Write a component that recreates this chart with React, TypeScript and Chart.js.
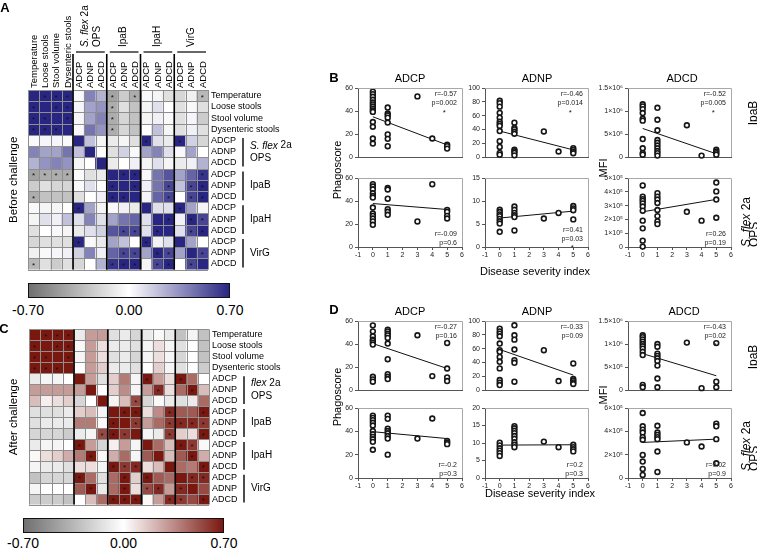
import React, { useEffect, useRef } from 'react';
import { Chart, registerables } from 'chart.js';

Chart.register(...registerables);

const FONT = "'Liberation Sans', Arial, Helvetica, sans-serif";

// ---------------- heatmap data ----------------
const symptomLabels = ['Temperature', 'Loose stools', 'Stool volume', 'Dysenteric stools'];
const assayLabels = ['ADCP', 'ADNP', 'ADCD'];
const heatLabels = [...symptomLabels, ...assayLabels, ...assayLabels, ...assayLabels, ...assayLabels];
const antigenNames = ['OPS', 'IpaB', 'IpaH', 'VirG'];
const colorbarValues = [-0.7, 0, 0.7];
const colorbarLabels = ['-0.70', '0.00', '0.70'];

const beforeValues = [
  [0.7, 0.7, 0.7, 0.7, 0.02, 0.4, 0.25, -0.45, -0.25, -0.4, 0.02, -0.05, -0.15, -0.2, -0.07, -0.35],
  [0.7, 0.7, 0.7, 0.7, 0.03, 0.3, 0.35, -0.4, -0.15, -0.3, -0.05, 0.1, 0.0, -0.15, 0.02, -0.15],
  [0.7, 0.7, 0.7, 0.7, 0.03, 0.3, 0.4, -0.4, -0.2, -0.3, -0.05, 0.05, 0.02, -0.15, 0.03, -0.25],
  [0.7, 0.7, 0.7, 0.7, 0.02, 0.45, 0.35, -0.4, -0.2, -0.3, 0.0, 0.2, -0.05, -0.15, 0.05, -0.15],
  [0.02, 0.03, 0.03, 0.02, 0.7, 0.2, -0.05, -0.1, -0.05, -0.15, 0.7, 0.1, -0.1, 0.7, 0.15, -0.2],
  [0.4, 0.3, 0.3, 0.45, 0.2, 0.7, 0.0, -0.15, 0.15, 0.02, 0.3, 0.4, 0.1, 0.02, 0.3, 0.0],
  [0.25, 0.35, 0.4, 0.35, -0.05, 0.0, 0.7, -0.1, 0.0, 0.05, -0.05, 0.1, -0.05, -0.1, 0.05, 0.25],
  [-0.45, -0.4, -0.4, -0.4, -0.02, -0.15, -0.1, 0.7, 0.7, 0.7, 0.02, 0.45, 0.55, 0.3, 0.5, 0.65],
  [-0.25, -0.15, -0.2, -0.2, 0.02, 0.1, 0.0, 0.7, 0.7, 0.7, 0.05, 0.45, 0.6, 0.2, 0.6, 0.7],
  [-0.4, -0.3, -0.3, -0.3, -0.15, 0.0, 0.05, 0.7, 0.7, 0.7, -0.05, 0.5, 0.6, 0.0, 0.6, 0.7],
  [0.02, -0.05, -0.05, 0.0, 0.7, 0.3, -0.05, 0.02, 0.05, -0.1, 0.7, 0.1, 0.1, 0.7, 0.3, -0.05],
  [-0.05, 0.1, 0.05, 0.2, 0.1, 0.4, 0.1, 0.3, 0.45, 0.5, 0.1, 0.7, 0.7, 0.05, 0.7, 0.6],
  [-0.15, 0.0, 0.02, -0.05, -0.1, 0.1, 0.15, 0.55, 0.6, 0.6, 0.1, 0.7, 0.7, 0.1, 0.6, 0.7],
  [-0.2, -0.15, -0.15, -0.15, 0.7, 0.02, -0.1, 0.3, 0.2, 0.0, 0.7, 0.05, 0.1, 0.7, 0.3, 0.0],
  [-0.07, 0.02, 0.03, 0.05, 0.15, 0.4, 0.05, 0.5, 0.6, 0.6, 0.3, 0.7, 0.6, 0.3, 0.7, 0.6],
  [-0.35, -0.15, -0.25, -0.15, -0.2, 0.0, 0.25, 0.65, 0.7, 0.7, -0.05, 0.6, 0.7, 0.0, 0.6, 0.7],
];
const beforeStars = [
  '.***...*.*.....*',
  '*.**...*........',
  '**.*...*........',
  '***....*........',
  '..........*..*..',
  '................',
  '................',
  '****....**.....*',
  '.......*.*..*.**',
  '*......**...*.**',
  '....*........*..',
  '............*.**',
  '........**.*..**',
  '....*.....*.....',
  '........**.**..*',
  '*......***.**.*.',
];

const afterValues = [
  [0.7, 0.7, 0.7, 0.7, -0.1, 0.3, 0.3, -0.15, -0.1, -0.2, -0.1, 0.02, -0.1, -0.3, -0.05, -0.3],
  [0.7, 0.7, 0.7, 0.7, -0.03, 0.3, 0.1, -0.1, -0.1, -0.15, -0.05, 0.1, -0.05, -0.15, 0.0, -0.3],
  [0.7, 0.7, 0.7, 0.7, -0.05, 0.3, 0.1, -0.15, -0.1, -0.2, -0.05, 0.1, -0.05, -0.2, 0.0, -0.3],
  [0.7, 0.7, 0.7, 0.7, 0.0, 0.3, 0.15, -0.1, -0.1, -0.15, 0.0, 0.15, -0.05, -0.15, 0.0, -0.25],
  [-0.1, -0.05, -0.05, 0.0, 0.7, 0.3, -0.15, 0.15, 0.4, -0.05, 0.7, 0.3, 0.1, 0.7, 0.45, 0.0],
  [0.3, 0.3, 0.3, 0.3, 0.3, 0.7, 0.0, 0.15, 0.35, -0.05, 0.3, 0.65, 0.1, 0.45, 0.7, 0.2],
  [0.2, 0.05, 0.1, 0.15, -0.2, 0.0, 0.7, -0.05, 0.2, 0.55, -0.2, 0.02, -0.1, -0.15, -0.1, 0.45],
  [-0.15, -0.15, -0.15, -0.1, 0.15, 0.2, -0.05, 0.7, 0.7, 0.7, 0.1, 0.35, 0.65, 0.5, 0.5, 0.7],
  [-0.15, -0.1, -0.1, -0.1, 0.4, 0.4, 0.02, 0.7, 0.7, 0.6, 0.3, 0.45, 0.6, 0.65, 0.65, 0.6],
  [-0.2, -0.2, -0.2, -0.25, -0.1, -0.05, 0.55, 0.7, 0.6, 0.7, -0.05, -0.1, 0.6, 0.15, 0.1, 0.7],
  [-0.1, -0.05, -0.05, 0.0, 0.7, 0.3, -0.2, 0.05, 0.3, -0.05, 0.7, 0.45, 0.2, 0.7, 0.6, 0.02],
  [0.02, 0.1, 0.15, 0.25, 0.4, 0.7, 0.02, 0.25, 0.45, -0.05, 0.5, 0.7, 0.2, 0.5, 0.7, 0.25],
  [-0.05, -0.1, -0.1, -0.15, 0.1, 0.1, -0.05, 0.7, 0.6, 0.65, 0.1, 0.2, 0.7, 0.45, 0.4, 0.7],
  [-0.3, -0.2, -0.2, -0.2, 0.7, 0.45, -0.15, 0.45, 0.7, 0.15, 0.7, 0.5, 0.45, 0.7, 0.65, 0.65],
  [-0.05, 0.0, 0.0, 0.0, 0.5, 0.7, -0.1, 0.45, 0.7, 0.1, 0.55, 0.65, 0.3, 0.65, 0.7, 0.55],
  [-0.25, -0.25, -0.25, -0.3, 0.0, 0.2, 0.45, 0.7, 0.7, 0.7, 0.02, 0.3, 0.65, 0.6, 0.55, 0.7],
];
const afterStars = [
  '.***............',
  '*.**............',
  '**.*............',
  '***.............',
  '..........*..*..',
  '...........*..*.',
  '.........*......',
  '........**..*..*',
  '.......*.*..****',
  '......***...*..*',
  '....*........**.',
  '.....*........*.',
  '.......***.....*',
  '....*...*.*...**',
  '.....*..*.**.*..',
  '.......***..**.*',
];

// ---------------- scatter data: [disease severity index, values] ----------------
type Group = [number, number[]][];
type Pt = [number, number];

const B_IPAB_ADCP: Group = [
  [0, [56.8, 54.7, 52.4, 49.8, 47.4, 45.7, 43.9, 42.1, 40.4, 39.2, 30.4, 26.3, 16.1, 11.7]],
  [1, [43, 37.8, 36.3, 34.2, 29.9, 19.6, 15.8, 9.4]],
  [3, [52.7]],
  [4, [16.1]],
  [5, [10.8, 9.4, 7.3]],
];
const B_IPAB_ADCP_FIT: Pt[] = [[0, 35], [5, 10.5]];

const B_IPAB_ADNP: Group = [
  [0, [81.5, 78, 73, 64, 57, 51, 48, 45, 37.6, 23, 14.6, 5.9, 3.4]],
  [1, [49.8, 42, 40, 36.6, 33.7, 10.7, 8.3, 5.9, 2.4]],
  [3, [37]],
  [4, [8]],
  [5, [12.8, 10.3, 7.8, 5.4]],
];
const B_IPAB_ADNP_FIT: Pt[] = [[0, 37.6], [5, 10.3]];

const B_IPAB_ADCD: Group = [
  [0, [1.146e6, 1.1e6, 1.04e6, 0.955e6, 0.83e6, 0.79e6, 0.39e6, 0.19e6, 0.085e6, 0.05e6]],
  [1, [1.07e6, 0.81e6, 0.58e6, 0.37e6, 0.31e6, 0.25e6, 0.19e6, 0.13e6, 0.085e6, 0.03e6]],
  [3, [0.69e6]],
  [4, [0.03e6]],
  [5, [0.156e6, 0.12e6, 0.085e6, 0.05e6]],
];
const B_IPAB_ADCD_FIT: Pt[] = [[0, 0.62e6], [5, 0.07e6]];

const B_OPS_ADCP: Group = [
  [0, [54.6, 52.6, 50.2, 46.7, 44.4, 43, 34.3, 29.1, 27.1, 24.8, 22.2, 19.3]],
  [1, [51.3, 50, 42, 32.9, 30.6, 28]],
  [3, [22.2]],
  [4, [54.6]],
  [5, [32.3, 30.6, 27.1, 24.8]],
];
const B_OPS_ADCP_FIT: Pt[] = [[0, 37.8], [5, 32.6]];

const B_OPS_ADNP: Group = [
  [0, [8.1, 7.6, 7.1, 6.7, 6.1, 5.6, 5.1, 3.3]],
  [1, [8.8, 8.1, 7.4, 6.9, 6.5, 3.6]],
  [3, [6.2]],
  [4, [7.4]],
  [5, [8.9, 8.4, 8.0, 6.0]],
];
const B_OPS_ADNP_FIT: Pt[] = [[0, 6.3], [5, 7.8]];

const B_OPS_ADCD: Group = [
  [0, [4.46e5, 3.65e5, 3.47e5, 3.34e5, 3.16e5, 2.93e5, 2.63e5, 1.91e5, 1.35e5, 0.46e5, 0.03e5]],
  [1, [3.9e5, 3.65e5, 3.44e5, 3.19e5, 2.68e5, 2.24e5, 1.86e5, 1.66e5]],
  [3, [2.55e5]],
  [4, [1.91e5]],
  [5, [4.67e5, 4.03e5, 3.44e5, 2.12e5]],
];
const B_OPS_ADCD_FIT: Pt[] = [[0, 2.55e5], [5, 3.45e5]];

const D_IPAB_ADCP: Group = [
  [0, [56.2, 51, 46.7, 43.8, 42.7, 40.9, 39.5, 11.5, 9.2, 7.2]],
  [1, [52.5, 51, 49, 47.5, 45.3, 40.4, 26.8, 13.8, 11.5, 9.5]],
  [3, [47.6]],
  [4, [12.1]],
  [5, [40.9, 18.7, 10.9, 7.8]],
];
const D_IPAB_ADCP_FIT: Pt[] = [[0, 40.4], [5, 18.7]];

const D_IPAB_ADNP: Group = [
  [0, [89, 85, 81.7, 77.9, 67.3, 57.7, 55.3, 48, 40.9, 31.3, 14.4, 10.6, 7.2]],
  [1, [93.8, 79.3, 73, 58.7, 43.3, 39.4, 12]],
  [3, [57.7]],
  [4, [13]],
  [5, [38.5, 15.9, 13.5, 11, 8.7]],
];
const D_IPAB_ADNP_FIT: Pt[] = [[0, 58.7], [5, 21.6]];

const D_IPAB_ADCD: Group = [
  [0, [1.19e6, 1.15e6, 1.1e6, 1.05e6, 1.0e6, 0.95e6, 0.9e6, 0.83e6, 0.76e6, 0.11e6, 0.06e6]],
  [1, [1.0e6, 0.94e6, 0.79e6, 0.74e6, 0.69e6, 0.63e6, 0.53e6, 0.25e6, 0.06e6]],
  [3, [1.03e6]],
  [4, [0.04e6]],
  [5, [1.02e6, 0.18e6, 0.06e6]],
];
const D_IPAB_ADCD_FIT: Pt[] = [[0, 0.79e6], [5, 0.31e6]];

const D_OPS_ADCP: Group = [
  [0, [53.5, 51.5, 49.6, 47.3, 45, 40.3, 37.5, 35.2, 33.2, 31, 24.2]],
  [1, [53.5, 50.7, 42.3, 40.3, 38.3, 36, 33.8, 20]],
  [3, [33.8]],
  [4, [51]],
  [5, [31.8, 30.4, 29]],
];
const D_OPS_ADCP_FIT: Pt[] = [[0, 39.7], [5, 33.8]];

const D_OPS_ADNP: Group = [
  [0, [10.1, 9.3, 8.5, 7.8, 7.1, 6.3]],
  [1, [14.8, 14.2, 13.5, 12.8, 12, 11.2, 10.2, 9.5, 8.8]],
  [3, [10.4]],
  [4, [8.8]],
  [5, [9.5, 8.8, 8.2, 7.6]],
];
const D_OPS_ADNP_FIT: Pt[] = [[0, 9.4], [5, 9.5]];

const D_OPS_ADCD: Group = [
  [0, [5.57e5, 4.43e5, 4.14e5, 3.9e5, 3.5e5, 3.28e5, 1.98e5, 1.41e5, 0.78e5, 0.26e5]],
  [1, [4.48e5, 3.9e5, 3.7e5, 3.5e5, 3.33e5, 2.27e5, 0.52e5]],
  [3, [3.05e5]],
  [4, [2.7e5]],
  [5, [4.66e5, 4.43e5, 3.33e5, 1.26e5]],
];
const D_OPS_ADCD_FIT: Pt[] = [[0, 3.05e5], [5, 3.33e5]];

const severityTicks = [-1, 6];

// ---------------- helpers ----------------
const GRAY_END = [112, 112, 112];
const BLUE_END = [40, 38, 130];
const RED_END = [122, 24, 16];

function heatColor(v: number, pos: number[]) {
  const t = Math.min(1, Math.abs(v) / 0.7);
  const end = v >= 0 ? pos : GRAY_END;
  const c = end.map((e) => Math.round(255 + (e - 255) * t));
  return `rgb(${c[0]},${c[1]},${c[2]})`;
}

const SUP: Record<string, string> = { '0': '⁰', '1': '¹', '2': '²', '3': '³', '4': '⁴', '5': '⁵', '6': '⁶', '7': '⁷', '8': '⁸', '9': '⁹' };
function sciLabel(v: number) {
  if (v === 0) return '0';
  const e = Math.floor(Math.log10(v) + 1e-9);
  const m = Math.round((v / Math.pow(10, e)) * 100) / 100;
  return `${m}×10${String(e).split('').map((d) => SUP[d]).join('')}`;
}

const expand = (g: Group) => g.flatMap(([x, ys]) => ys.map((y) => ({ x, y })));

// ---------------- heatmap ----------------
interface HeatProps {
  values: number[][];
  stars: string[];
  pos: number[];
  gridLeft: number;
  gridTop: number;
  header: boolean;
  side: string;
  opsItalic: string;
}

function Heatmap(p: HeatProps) {
  const ref = useRef<HTMLCanvasElement>(null);
  const W = 300;
  const GW = 180;
  const GH = 185;
  const headH = p.header ? 90 : 4;
  const H = headH + GH + 3;
  useEffect(() => {
    const n = heatLabels.length;
    const overlay = {
      id: 'heatOverlay',
      afterDatasetsDraw(chart: any) {
        const { ctx, chartArea: ca } = chart;
        const xs = chart.scales.x;
        const ys = chart.scales.y;
        const cw = (ca.right - ca.left) / n;
        const colEdge = (i: number) => (i < n ? xs.getPixelForValue(i) - cw / 2 : xs.getPixelForValue(n - 1) + cw / 2);
        const rowEdge = (r: number) => ys.getPixelForValue(r);
        const drawText = (parts: [string, boolean][], x: number, y: number, size: number, align: string, rotate: boolean) => {
          ctx.save();
          ctx.translate(x, y);
          if (rotate) ctx.rotate(-Math.PI / 2);
          let total = 0;
          parts.forEach(([t, it]) => {
            ctx.font = `${it ? 'italic ' : ''}${size}px ${FONT}`;
            total += ctx.measureText(t).width;
          });
          let cx = align === 'left' ? 0 : -total / 2;
          ctx.textAlign = 'left';
          ctx.textBaseline = 'middle';
          ctx.fillStyle = '#000';
          parts.forEach(([t, it]) => {
            ctx.font = `${it ? 'italic ' : ''}${size}px ${FONT}`;
            ctx.fillText(t, cx, 0);
            cx += ctx.measureText(t).width;
          });
          ctx.restore();
        };
        ctx.save();
        // cell grid
        ctx.strokeStyle = '#8e8e8e';
        ctx.lineWidth = 1;
        ctx.beginPath();
        for (let i = 0; i <= n; i++) {
          const x = Math.round(colEdge(i)) + 0.5;
          ctx.moveTo(x, ca.top);
          ctx.lineTo(x, ca.bottom);
        }
        for (let r = 0; r <= n; r++) {
          const y = Math.round(rowEdge(r)) + 0.5;
          ctx.moveTo(ca.left, y);
          ctx.lineTo(ca.right, y);
        }
        ctx.stroke();
        // significance stars
        ctx.fillStyle = '#111';
        ctx.font = `8px ${FONT}`;
        ctx.textAlign = 'center';
        ctx.textBaseline = 'middle';
        p.stars.forEach((row, r) =>
          row.split('').forEach((c, i) => {
            if (c === '*') ctx.fillText('*', xs.getPixelForValue(i), (rowEdge(r) + rowEdge(r + 1)) / 2 + 2);
          })
        );
        // group separators
        ctx.strokeStyle = '#000';
        ctx.lineWidth = 1.6;
        [4, 7, 10, 13].forEach((i) => {
          const x = colEdge(i);
          ctx.beginPath();
          ctx.moveTo(x, p.header ? ca.top - 36 : ca.top);
          ctx.lineTo(x, ca.bottom);
          ctx.stroke();
        });
        // column labels and group headers
        if (p.header) {
          heatLabels.forEach((lab, i) => {
            drawText([[lab, false]], xs.getPixelForValue(i) + 0.5, ca.top - 2, 9.5, 'left', true);
          });
          ctx.lineWidth = 1.2;
          antigenNames.forEach((name, g) => {
            const a = colEdge(4 + 3 * g);
            const b = colEdge(7 + 3 * g);
            ctx.beginPath();
            ctx.moveTo(a + 3, ca.top - 38);
            ctx.lineTo(b - 2, ca.top - 38);
            ctx.stroke();
            const cx = (a + b) / 2;
            if (g === 0) {
              drawText([['S. flex', true], [' 2a', false]], cx - 5, ca.top - 43, 10, 'left', true);
              drawText([['OPS', false]], cx + 7, ca.top - 43, 10, 'left', true);
            } else {
              drawText([[name, false]], cx, ca.top - 43, 10, 'left', true);
            }
          });
        }
        // row group brackets
        ctx.lineWidth = 1.4;
        antigenNames.forEach((name, g) => {
          const t = rowEdge(4 + 3 * g);
          const b = rowEdge(7 + 3 * g);
          const bx = ca.right + 35;
          ctx.beginPath();
          ctx.moveTo(bx, t + 3);
          ctx.lineTo(bx, b - 2);
          ctx.stroke();
          const cy = (t + b) / 2;
          if (g === 0) {
            const parts: [string, boolean][] = p.opsItalic === 'S. flex' ? [['S. flex', true], [' 2a', false]] : [['flex', true], [' 2a', false]];
            drawText(parts, ca.right + 42, cy - 6, 10, 'left', false);
            drawText([['OPS', false]], ca.right + 42, cy + 7, 10, 'left', false);
          } else {
            drawText([[name, false]], ca.right + 42, cy, 10, 'left', false);
          }
        });
        // side label
        drawText([[p.side, false]], 14, (ca.top + ca.bottom) / 2, 11.5, 'center', true);
        ctx.restore();
      },
    };
    const chart = new Chart(ref.current as HTMLCanvasElement, {
      type: 'bar',
      data: {
        labels: heatLabels,
        datasets: p.values.map((row, r) => ({
          label: heatLabels[r],
          data: row.map(() => 1),
          backgroundColor: row.map((v) => heatColor(v, p.pos)),
          borderWidth: 0,
          barPercentage: 1,
          categoryPercentage: 1,
        })),
      },
      options: {
        responsive: false,
        animation: false,
        events: [],
        plugins: { legend: { display: false }, tooltip: { enabled: false } },
        layout: { padding: { left: p.gridLeft, top: headH, right: 0, bottom: 3 } },
        scales: {
          x: {
            type: 'category',
            position: 'top',
            stacked: true,
            display: false,
          },
          y: {
            type: 'linear',
            position: 'right',
            stacked: true,
            reverse: true,
            min: 0,
            max: 16,
            grid: { display: false, drawTicks: false },
            border: { display: false },
            afterBuildTicks: (s: any) => {
              s.ticks = heatLabels.map((_, i) => ({ value: i + 0.5 }));
            },
            ticks: {
              autoSkip: false,
              padding: 3,
              color: '#000',
              font: { family: FONT, size: 9 },
              callback: (_v: any, i: number) => heatLabels[i],
            },
            afterFit: (s: any) => {
              s.width = W - p.gridLeft - GW;
            },
          },
        },
      } as any,
      plugins: [overlay],
    });
    return () => chart.destroy();
  }, []);
  return <canvas ref={ref} width={W} height={H} style={{ position: 'absolute', left: 0, top: p.gridTop - headH }} />;
}

function Colorbar({ left, top, width, pos, labelY }: { left: number; top: number; width: number; pos: number[]; labelY: number }) {
  const stops = [-0.7, -0.35, 0, 0.35, 0.7].map((v) => heatColor(v, pos)).join(', ');
  return (
    <>
      <div
        style={{
          position: 'absolute',
          left,
          top,
          width,
          height: 15,
          boxSizing: 'border-box',
          border: '1.5px solid #111',
          background: `linear-gradient(to right, ${stops})`,
        }}
      />
      {colorbarValues.map((v, i) => (
        <Txt key={i} x={left + ((v + 0.7) / 1.4) * width} y={labelY} size={14}>
          {colorbarLabels[i]}
        </Txt>
      ))}
    </>
  );
}

// ---------------- scatter ----------------
interface ScatterProps {
  x: number;
  y: number;
  w: number;
  h: number;
  groups: Group;
  fit: Pt[];
  yMax: number;
  yStep: number;
  sci?: boolean;
  showX: boolean;
  r: string;
  pv: string;
  star?: boolean;
  noteAt: 'top' | 'bottom';
}

function Scatter(p: ScatterProps) {
  const ref = useRef<HTMLCanvasElement>(null);
  const YW = 45;
  const XH = 14;
  const PT = 8;
  const PR = 10;
  useEffect(() => {
    const deco = {
      id: 'deco',
      afterDraw(chart: any) {
        const { ctx, chartArea: ca } = chart;
        ctx.save();
        ctx.strokeStyle = '#a8a8a8';
        ctx.lineWidth = 1;
        ctx.beginPath();
        ctx.moveTo(ca.left, Math.round(ca.top) + 0.5);
        ctx.lineTo(Math.round(ca.right) + 0.5, Math.round(ca.top) + 0.5);
        ctx.lineTo(Math.round(ca.right) + 0.5, ca.bottom);
        ctx.stroke();
        ctx.fillStyle = '#222';
        ctx.font = `7px ${FONT}`;
        ctx.textAlign = 'right';
        ctx.textBaseline = 'middle';
        const rx = ca.right - 5;
        let y1: number;
        let y2: number;
        let ys = 0;
        if (p.noteAt === 'top') {
          y1 = ca.top + 6.5;
          y2 = ca.top + 15;
          ys = ca.top + 23;
        } else if (p.star) {
          y1 = ca.bottom - 17;
          y2 = ca.bottom - 8;
          ys = ca.bottom - 1;
        } else {
          y1 = ca.bottom - 13;
          y2 = ca.bottom - 4;
        }
        ctx.fillText(p.r, rx, y1);
        ctx.fillText(p.pv, rx, y2);
        if (p.star) {
          const w = ctx.measureText(p.pv).width;
          ctx.textAlign = 'center';
          ctx.font = `8px ${FONT}`;
          ctx.fillText('*', rx - w / 2, ys + 1.5);
        }
        ctx.restore();
      },
    };
    const chart = new Chart(ref.current as HTMLCanvasElement, {
      type: 'scatter',
      data: {
        datasets: [
          {
            type: 'scatter',
            data: expand(p.groups),
            pointRadius: 2.4,
            pointBorderWidth: 1.6,
            pointBorderColor: '#161616',
            pointBackgroundColor: '#ffffff',
            clip: false,
          },
          {
            type: 'line',
            data: p.fit.map(([x, y]) => ({ x, y })),
            borderColor: '#111',
            borderWidth: 1,
            pointRadius: 0,
            fill: false,
            clip: false,
          },
        ],
      },
      options: {
        responsive: false,
        animation: false,
        events: [],
        plugins: { legend: { display: false }, tooltip: { enabled: false } },
        layout: { padding: { left: 0, top: PT, right: PR, bottom: 0 } },
        scales: {
          x: {
            type: 'linear',
            min: severityTicks[0],
            max: severityTicks[1],
            grid: { display: p.showX, drawOnChartArea: false, drawTicks: true, tickLength: 3, color: '#555' },
            border: { display: true, color: '#555', width: 1 },
            ticks: { display: p.showX, stepSize: 1, padding: 1, color: '#222', font: { family: FONT, size: 7 } },
            afterFit: (s: any) => {
              s.height = XH;
            },
          },
          y: {
            type: 'linear',
            min: 0,
            max: p.yMax,
            grid: { display: true, drawOnChartArea: false, drawTicks: true, tickLength: 3, color: '#555' },
            border: { display: true, color: '#555', width: 1 },
            ticks: {
              stepSize: p.yStep,
              padding: 2,
              color: '#222',
              font: { family: FONT, size: 7 },
              callback: (v: any) => (p.sci ? sciLabel(Number(v)) : String(v)),
            },
            afterFit: (s: any) => {
              s.width = YW;
            },
          },
        },
      } as any,
      plugins: [deco],
    });
    return () => chart.destroy();
  }, []);
  return (
    <canvas
      ref={ref}
      width={p.w + YW + PR}
      height={p.h + PT + XH}
      style={{ position: 'absolute', left: p.x - YW, top: p.y - PT }}
    />
  );
}

// ---------------- text ----------------
function Txt(props: { x: number; y: number; size: number; bold?: boolean; rotate?: boolean; start?: boolean; children: any }) {
  const { x, y, size, bold, rotate, start, children } = props;
  const base: any = {
    position: 'absolute',
    left: x,
    top: y,
    whiteSpace: 'nowrap',
    fontFamily: FONT,
    fontSize: size,
    lineHeight: 1,
    fontWeight: bold ? 'bold' : 'normal',
    color: '#000',
  };
  if (rotate && start) {
    base.transform = 'translate(0,-50%) rotate(-90deg)';
    base.transformOrigin = '0 50%';
  } else {
    base.transform = `translate(-50%,-50%)${rotate ? ' rotate(-90deg)' : ''}`;
  }
  return <div style={base}>{children}</div>;
}

const COLS = [
  { x: 358, w: 104 },
  { x: 485, w: 103 },
  { x: 628, w: 103 },
];

export default function App() {
  const bTop = { y: 88, h: 69 };
  const bBot = { y: 178, h: 69 };
  const dTop = { y: 321, h: 69 };
  const dBot = { y: 408, h: 70 };
  return (
    <div style={{ position: 'absolute', left: 0, top: 0, width: 757, height: 548, overflow: 'hidden', background: '#fff' }}>
      <Heatmap values={beforeValues} stars={beforeStars} pos={BLUE_END} gridLeft={28} gridTop={90} header={true} side="Before challenge" opsItalic="S. flex" />
      <Colorbar left={28} top={283} width={202} pos={BLUE_END} labelY={310} />
      <Heatmap values={afterValues} stars={afterStars} pos={RED_END} gridLeft={29} gridTop={325} header={false} side="After challenge" opsItalic="flex" />
      <Colorbar left={23} top={518} width={201} pos={RED_END} labelY={543} />

      <Scatter {...COLS[0]} {...bTop} groups={B_IPAB_ADCP} fit={B_IPAB_ADCP_FIT} yMax={60} yStep={20} showX={false} r="r=-0.57" pv="p=0.002" star noteAt="top" />
      <Scatter {...COLS[1]} {...bTop} groups={B_IPAB_ADNP} fit={B_IPAB_ADNP_FIT} yMax={100} yStep={20} showX={false} r="r=-0.46" pv="p=0.014" star noteAt="top" />
      <Scatter {...COLS[2]} {...bTop} groups={B_IPAB_ADCD} fit={B_IPAB_ADCD_FIT} yMax={1.5e6} yStep={5e5} sci showX={false} r="r=-0.52" pv="p=0.005" star noteAt="top" />
      <Scatter {...COLS[0]} {...bBot} groups={B_OPS_ADCP} fit={B_OPS_ADCP_FIT} yMax={60} yStep={20} showX r="r=-0.09" pv="p=0.6" noteAt="bottom" />
      <Scatter {...COLS[1]} {...bBot} groups={B_OPS_ADNP} fit={B_OPS_ADNP_FIT} yMax={15} yStep={5} showX r="r=0.41" pv="p=0.03" star noteAt="bottom" />
      <Scatter {...COLS[2]} {...bBot} groups={B_OPS_ADCD} fit={B_OPS_ADCD_FIT} yMax={5e5} yStep={1e5} sci showX r="r=0.26" pv="p=0.19" noteAt="bottom" />

      <Scatter {...COLS[0]} {...dTop} groups={D_IPAB_ADCP} fit={D_IPAB_ADCP_FIT} yMax={60} yStep={20} showX={false} r="r=-0.27" pv="p=0.16" noteAt="top" />
      <Scatter {...COLS[1]} {...dTop} groups={D_IPAB_ADNP} fit={D_IPAB_ADNP_FIT} yMax={100} yStep={20} showX={false} r="r=-0.33" pv="p=0.09" noteAt="top" />
      <Scatter {...COLS[2]} {...dTop} groups={D_IPAB_ADCD} fit={D_IPAB_ADCD_FIT} yMax={1.5e6} yStep={5e5} sci showX={false} r="r=-0.43" pv="p=0.02" star noteAt="top" />
      <Scatter {...COLS[0]} {...dBot} groups={D_OPS_ADCP} fit={D_OPS_ADCP_FIT} yMax={60} yStep={20} showX r="r=-0.2" pv="p=0.3" noteAt="bottom" />
      <Scatter {...COLS[1]} {...dBot} groups={D_OPS_ADNP} fit={D_OPS_ADNP_FIT} yMax={20} yStep={5} showX r="r=0.2" pv="p=0.3" noteAt="bottom" />
      <Scatter {...COLS[2]} {...dBot} groups={D_OPS_ADCD} fit={D_OPS_ADCD_FIT} yMax={6e5} yStep={2e5} sci showX r="r=0.02" pv="p=0.9" noteAt="bottom" />

      <Txt x={5} y={7} size={13} bold>A</Txt>
      <Txt x={4} y={328} size={13} bold>C</Txt>
      <Txt x={334} y={77} size={13} bold>B</Txt>
      <Txt x={334} y={309} size={13} bold>D</Txt>

      <Txt x={410} y={78} size={11}>ADCP</Txt>
      <Txt x={537} y={78} size={11}>ADNP</Txt>
      <Txt x={682} y={78} size={11}>ADCD</Txt>
      <Txt x={410} y={311} size={11}>ADCP</Txt>
      <Txt x={537} y={311} size={11}>ADNP</Txt>
      <Txt x={684} y={311} size={11}>ADCD</Txt>

      <Txt x={337} y={170} size={11} rotate>Phagoscore</Txt>
      <Txt x={337} y={397} size={11} rotate>Phagoscore</Txt>
      <Txt x={603} y={168} size={11} rotate>MFI</Txt>
      <Txt x={603} y={395} size={11} rotate>MFI</Txt>
      <Txt x={535} y={271} size={11}>Disease severity index</Txt>
      <Txt x={540} y={493} size={11}>Disease severity index</Txt>

      <Txt x={753} y={113} size={12} rotate>IpaB</Txt>
      <Txt x={746} y={247} size={12} rotate start><i>S. flex</i> 2a</Txt>
      <Txt x={754} y={247} size={12} rotate start>OPS</Txt>
      <Txt x={753} y={357} size={12} rotate>IpaB</Txt>
      <Txt x={746} y={471} size={12} rotate start><i>S. flex</i> 2a</Txt>
      <Txt x={754} y={471} size={12} rotate start>OPS</Txt>
    </div>
  );
}
